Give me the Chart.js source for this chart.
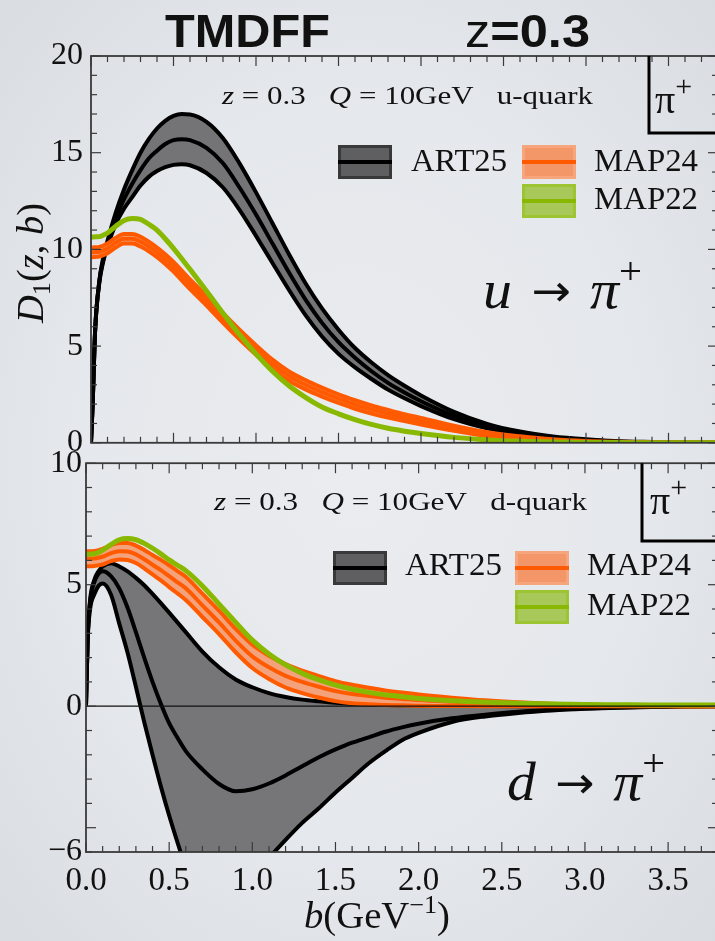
<!DOCTYPE html>
<html>
<head>
<meta charset="utf-8">
<script src="https://cdn.jsdelivr.net/npm/chart.js@4.4.1/dist/chart.umd.min.js"></script>
<style>
html, body { margin: 0; padding: 0; }
body {
  width: 715px; height: 941px; overflow: hidden; position: relative;
  background: radial-gradient(ellipse at 50% 50%, #eaecef 0%, #e5e8ec 55%, #d9dce1 100%);
}
canvas { position: absolute; left: 0; }
#topChart { top: 0; }
#bottomChart { top: 440px; }
</style>
</head>
<body>
<canvas id="topChart" width="722" height="470"></canvas>
<canvas id="bottomChart" width="722" height="501"></canvas>
<script>
// b values (GeV^-1) shared by every curve
const bGrid = [0, 0.01, 0.025, 0.05, 0.075, 0.1, 0.15, 0.2, 0.25, 0.3, 0.35, 0.4, 0.45, 0.5, 0.55, 0.6, 0.7, 0.8, 0.9, 1.0,
  1.1, 1.2, 1.3, 1.4, 1.5, 1.6, 1.7, 1.8, 1.9, 2.0, 2.2, 2.4, 2.6, 2.8, 3.0, 3.2, 3.4, 3.6, 3.8];

// u -> pi+
const uArtCentral = [0, 2.0, 5.8, 8.3, 9.5, 10.3, 11.6, 12.6, 13.4, 14.1, 14.7, 15.1, 15.45, 15.65, 15.7, 15.65, 15.25, 14.45, 13.2, 11.8,
  10.3, 8.8, 7.4, 6.2, 5.2, 4.4, 3.7, 3.1, 2.6, 2.15, 1.4, 0.85, 0.5, 0.28, 0.15, 0.07, 0.03, 0.01, 0];
const uArtUpper = [0, 2.0, 5.8, 8.35, 9.6, 10.45, 11.9, 13.1, 14.1, 15.0, 15.7, 16.25, 16.65, 16.9, 17.0, 16.98, 16.6, 15.75, 14.45, 12.95,
  11.35, 9.75, 8.25, 6.95, 5.85, 4.9, 4.15, 3.5, 2.95, 2.45, 1.6, 0.98, 0.58, 0.33, 0.18, 0.08, 0.04, 0.01, 0];
const uArtLower = [0, 2.0, 5.8, 8.25, 9.4, 10.15, 11.3, 12.1, 12.7, 13.3, 13.75, 14.05, 14.25, 14.37, 14.4, 14.35, 13.95, 13.2, 12.05, 10.7,
  9.3, 7.9, 6.6, 5.5, 4.6, 3.9, 3.3, 2.75, 2.3, 1.9, 1.22, 0.75, 0.43, 0.24, 0.13, 0.06, 0.03, 0.01, 0];
const uMap24Central = [9.85, 9.85, 9.86, 9.88, 9.95, 10.05, 10.35, 10.55, 10.55, 10.4, 10.15, 9.85, 9.5, 9.1, 8.65, 8.2, 7.35, 6.45, 5.6, 4.8,
  4.05, 3.45, 3.0, 2.62, 2.28, 1.98, 1.72, 1.5, 1.3, 1.12, 0.75, 0.45, 0.27, 0.13, 0.06, 0.03, 0.01, 0, 0];
const uMap24Upper = [10.1, 10.1, 10.11, 10.13, 10.2, 10.3, 10.6, 10.8, 10.8, 10.65, 10.4, 10.1, 9.75, 9.35, 8.9, 8.45, 7.6, 6.7, 5.85, 5.05,
  4.3, 3.69, 3.24, 2.85, 2.5, 2.2, 1.93, 1.7, 1.48, 1.29, 0.88, 0.55, 0.34, 0.18, 0.09, 0.05, 0.02, 0.01, 0];
const uMap24Lower = [9.6, 9.6, 9.61, 9.63, 9.7, 9.8, 10.1, 10.3, 10.3, 10.15, 9.9, 9.6, 9.25, 8.85, 8.4, 7.95, 7.1, 6.2, 5.35, 4.55,
  3.8, 3.21, 2.76, 2.39, 2.06, 1.76, 1.51, 1.3, 1.12, 0.95, 0.62, 0.35, 0.2, 0.08, 0.03, 0.01, 0, 0, 0];
const uMap22 = [10.64, 10.64, 10.65, 10.66, 10.74, 10.85, 11.2, 11.5, 11.6, 11.55, 11.3, 11.0, 10.55, 10.05, 9.52, 8.97, 7.85, 6.7, 5.6, 4.6,
  3.7, 2.95, 2.35, 1.85, 1.5, 1.2, 0.95, 0.75, 0.6, 0.48, 0.28, 0.15, 0.08, 0.04, 0.02, 0.01, 0, 0, 0];

// d -> pi+
const dArtCentral = [0, 2.8, 4.3, 5.1, 5.45, 5.55, 5.35, 4.85, 4.05, 3.05, 2.0, 1.0, 0.1, -0.7, -1.3, -1.85, -2.6, -3.2, -3.5, -3.42,
  -3.18, -2.85, -2.47, -2.1, -1.78, -1.5, -1.28, -1.05, -0.87, -0.72, -0.5, -0.35, -0.23, -0.15, -0.09, -0.05, -0.03, -0.01, 0];
const dArtUpper = [0, 2.8, 4.4, 5.2, 5.55, 5.75, 5.88, 5.75, 5.55, 5.28, 4.98, 4.62, 4.24, 3.85, 3.45, 3.05, 2.25, 1.6, 1.1, 0.78,
  0.54, 0.38, 0.27, 0.2, 0.14, 0.1, 0.07, 0.05, 0.04, 0.03, 0.02, 0.01, 0, 0, 0, 0, 0, 0, 0];
const dArtLower = [0, 2.7, 4.0, 4.6, 4.95, 5.05, 4.6, 3.4, 2.2, 0.8, -0.65, -2.0, -3.3, -4.5, -5.6, -6.6, -7.6, -8.1, -7.9, -7.1,
  -6.25, -5.5, -4.8, -4.2, -3.55, -2.95, -2.35, -1.85, -1.4, -1.1, -0.65, -0.42, -0.28, -0.18, -0.11, -0.06, -0.03, -0.01, 0];
const dMap24Central = [6.07, 6.07, 6.07, 6.08, 6.11, 6.15, 6.3, 6.38, 6.37, 6.25, 6.05, 5.82, 5.6, 5.35, 5.1, 4.85, 4.15, 3.45, 2.7, 2.05,
  1.6, 1.25, 1.0, 0.8, 0.62, 0.5, 0.42, 0.35, 0.3, 0.25, 0.18, 0.12, 0.08, 0.05, 0.03, 0.02, 0.01, 0, 0];
const dMap24Upper = [6.38, 6.38, 6.38, 6.39, 6.42, 6.47, 6.63, 6.72, 6.72, 6.61, 6.43, 6.22, 6.02, 5.8, 5.56, 5.33, 4.63, 3.93, 3.18, 2.53,
  2.08, 1.73, 1.46, 1.24, 1.03, 0.88, 0.76, 0.65, 0.56, 0.48, 0.35, 0.24, 0.16, 0.1, 0.06, 0.04, 0.02, 0.01, 0];
const dMap24Lower = [5.76, 5.76, 5.76, 5.77, 5.8, 5.83, 5.97, 6.04, 6.02, 5.89, 5.67, 5.42, 5.18, 4.9, 4.64, 4.37, 3.67, 2.97, 2.22, 1.57,
  1.12, 0.77, 0.54, 0.36, 0.21, 0.12, 0.08, 0.05, 0.04, 0.02, 0.01, 0, 0, 0, 0, 0, 0, -0.01, 0];
const dMap22 = [6.25, 6.25, 6.26, 6.27, 6.33, 6.42, 6.65, 6.85, 6.9, 6.85, 6.7, 6.5, 6.27, 6.02, 5.8, 5.58, 4.95, 4.2, 3.45, 2.72,
  2.15, 1.7, 1.35, 1.08, 0.87, 0.7, 0.57, 0.47, 0.39, 0.32, 0.22, 0.16, 0.12, 0.09, 0.07, 0.06, 0.05, 0.05, 0.05];

const xTickLabels = ['0.0', '0.5', '1.0', '1.5', '2.0', '2.5', '3.0', '3.5'];
const seriesNames = ['ART25', 'MAP24', 'MAP22'];

const SERIF = '"Liberation Serif", "DejaVu Serif", serif';
const SANS = '"Liberation Sans", Arial, sans-serif';
const ARROW = '"DejaVu Sans", sans-serif';
const f = (style, size, fam) => style + ' ' + size + 'px ' + (fam || SERIF);

function pts(arr) {
  return bGrid.map((b, i) => ({ x: b, y: arr[i] }));
}

function band(upper, lower, central, color, fillColor, width, order) {
  const common = { borderColor: color, borderWidth: width, pointRadius: 0, cubicInterpolationMode: 'monotone', clip: 0 };
  return [
    Object.assign({ data: pts(upper), fill: '+1', backgroundColor: fillColor, order: order + 2 }, common),
    Object.assign({ data: pts(lower), fill: false, order: order + 1 }, common),
    Object.assign({ data: pts(central), fill: false, order: order }, common)
  ];
}

function drawRich(ctx, t) {
  ctx.save();
  let w = 0;
  t.parts.forEach(p => { ctx.font = p[1]; w += ctx.measureText(p[0]).width; });
  ctx.translate(t.x, t.y);
  if (t.rot) ctx.rotate(t.rot);
  if (t.w) ctx.scale(t.w / w, 1);
  ctx.fillStyle = '#111';
  ctx.textBaseline = 'alphabetic';
  let cx = 0;
  t.parts.forEach(p => {
    ctx.font = p[1];
    ctx.fillText(p[0], cx, p[2] || 0);
    cx += ctx.measureText(p[0]).width;
  });
  ctx.restore();
}

function seg(ctx, x1, y1, x2, y2) {
  ctx.beginPath(); ctx.moveTo(x1, y1); ctx.lineTo(x2, y2); ctx.stroke();
}

const swatchStyle = {
  ART25: { fill: 'rgba(70,70,72,0.85)', edge: 'rgba(50,50,52,0.85)', line: '#000' },
  MAP24: { fill: '#f39668', edge: '#f7a57c', line: '#ff5a00' },
  MAP22: { fill: '#a8c95a', edge: '#9dc431', line: '#88b800' }
};

const decor = {
  id: 'decor',
  afterDatasetsDraw(chart, args, o) {
    const ctx = chart.ctx, a = chart.chartArea, xs = chart.scales.x, ys = chart.scales.y;
    ctx.save();
    if (o.zeroLine) {
      ctx.strokeStyle = '#111'; ctx.lineWidth = 1.2;
      const py = ys.getPixelForValue(0);
      seg(ctx, a.left, py, a.right, py);
    }
    ctx.strokeStyle = '#3a3a3a'; ctx.lineWidth = 1.8;
    ctx.strokeRect(a.left, a.top, a.right - a.left, a.bottom - a.top);
    ctx.lineWidth = 1.2;
    for (let i = 0; i <= 38; i++) {
      const px = xs.getPixelForValue(i / 10);
      const len = i % 5 === 0 ? 10 : 6;
      seg(ctx, px, a.bottom, px, a.bottom - len);
      seg(ctx, px, a.top, px, a.top + len);
    }
    for (let v = Math.ceil(ys.min); v <= ys.max; v++) {
      const py = ys.getPixelForValue(v);
      const len = v % 5 === 0 ? 10 : 6;
      seg(ctx, a.left, py, a.left + len, py);
      seg(ctx, a.right, py, a.right - len, py);
    }
    // pi+ box
    ctx.strokeStyle = '#000'; ctx.lineWidth = 3;
    ctx.beginPath();
    ctx.moveTo(o.box.x, a.top); ctx.lineTo(o.box.x, o.box.y); ctx.lineTo(a.right + 5, o.box.y);
    ctx.stroke();
    // legend swatches
    o.legend.forEach(e => {
      const s = swatchStyle[e.name];
      ctx.fillStyle = s.fill; ctx.fillRect(e.x, e.y, 54, 34);
      ctx.strokeStyle = s.edge; ctx.lineWidth = 3; ctx.strokeRect(e.x + 1.5, e.y + 1.5, 51, 31);
      ctx.strokeStyle = s.line; ctx.lineWidth = 4; seg(ctx, e.x, e.y + 17, e.x + 54, e.y + 17);
      drawRich(ctx, { x: e.tx, y: e.ty, w: e.tw, parts: [[e.name, f('', 31)]] });
    });
    o.texts.forEach(t => drawRich(ctx, t));
    ctx.restore();
  }
};

function yAxis(min, max, width, pad) {
  return {
    min: min, max: max,
    afterFit: s => { s.width = width; },
    border: { display: false },
    grid: { display: false, drawTicks: false },
    ticks: {
      stepSize: 5, padding: pad, color: '#111', font: { family: SERIF, size: 32 },
      callback: v => (v < 0 ? '\u2212' + Math.abs(v) : String(v))
    }
  };
}

// u / d -> pi+ label pieces, with wide gaps round the arrow
function arrowLabel(q) {
  return [['' + q, f('italic', 54)], [' ', f('', 72)], ['\u2192', f('', 44, ARROW), -2], [' ', f('', 72)],
    ['\u03c0', f('italic', 54)], ['+', f('', 38), -24]];
}

// upper panel: u -> pi+
new Chart(document.getElementById('topChart'), {
  type: 'line',
  data: {
    datasets: [].concat(
      band(uArtUpper, uArtLower, uArtCentral, '#000', '#747476', 4, 6),
      band(uMap24Upper, uMap24Lower, uMap24Central, '#ff5a00', '#f4a27c', 4, 3),
      [{ data: pts(uMap22), borderColor: '#88b800', borderWidth: 5, pointRadius: 0, fill: false,
         cubicInterpolationMode: 'monotone', clip: 0, order: 1 }]
    )
  },
  options: {
    responsive: false, animation: false, events: [],
    layout: { padding: { left: 0, top: 56, right: 4, bottom: 23 } },
    plugins: {
      legend: { display: false }, tooltip: { enabled: false },
      decor: {
        zeroLine: false,
        box: { x: 649, y: 133 },
        legend: [
          { name: seriesNames[0], x: 338, y: 145, tx: 411, ty: 171, tw: 96 },
          { name: seriesNames[1], x: 522, y: 145, tx: 594, ty: 171, tw: 104 },
          { name: seriesNames[2], x: 522, y: 184, tx: 594, ty: 209, tw: 104 }
        ],
        texts: [
          { x: 165, y: 47, w: 165, parts: [['TMDFF', f('bold', 47, SANS)]] },
          { x: 465, y: 47, w: 125, parts: [['z', f('', 47, SANS)], ['=0.3', f('bold', 47, SANS)]] },
          { x: 222, y: 104, w: 371, parts: [['z', f('italic', 25)], [' = 0.3   ', f('', 25)], ['Q', f('italic', 25)], [' = 10GeV   u-quark', f('', 25)]] },
          { x: 655, y: 113, parts: [['\u03c0', f('', 40)], ['+', f('', 30), -17]] },
          { x: 483, y: 308, w: 159, parts: arrowLabel('u') },
          { x: 43, y: 323, w: 120, rot: -Math.PI / 2, parts: [['D', f('italic', 38)], ['1', f('', 26), 7], ['(', f('', 38)], ['z', f('italic', 38)], [', ', f('', 38)], ['b', f('italic', 38)], [')', f('', 38)]] }
        ]
      }
    },
    scales: {
      x: { type: 'linear', min: 0, max: 3.8, display: false },
      y: yAxis(0, 20, 91, 8)
    }
  },
  plugins: [decor]
});

// lower panel: d -> pi+
new Chart(document.getElementById('bottomChart'), {
  type: 'line',
  data: {
    datasets: [].concat(
      band(dArtUpper, dArtLower, dArtCentral, '#000', '#767678', 4, 6),
      band(dMap24Upper, dMap24Lower, dMap24Central, '#ff5a00', '#f4a27c', 4, 3),
      [{ data: pts(dMap22), borderColor: '#88b800', borderWidth: 5, pointRadius: 0, fill: false,
         cubicInterpolationMode: 'monotone', clip: 0, order: 1 }]
    )
  },
  options: {
    responsive: false, animation: false, events: [],
    layout: { padding: { left: 0, top: 23, right: 4, bottom: 0 } },
    plugins: {
      legend: { display: false }, tooltip: { enabled: false },
      decor: {
        zeroLine: true,
        box: { x: 642, y: 101 },
        legend: [
          { name: seriesNames[0], x: 333, y: 111, tx: 405, ty: 135, tw: 97 },
          { name: seriesNames[1], x: 515, y: 111, tx: 587, ty: 135, tw: 104 },
          { name: seriesNames[2], x: 515, y: 150, tx: 587, ty: 175, tw: 104 }
        ],
        texts: [
          { x: 214, y: 70, w: 373, parts: [['z', f('italic', 25)], [' = 0.3   ', f('', 25)], ['Q', f('italic', 25)], [' = 10GeV   d-quark', f('', 25)]] },
          { x: 650, y: 74, parts: [['\u03c0', f('', 40)], ['+', f('', 30), -17]] },
          { x: 507, y: 360, w: 158, parts: arrowLabel('d') },
          { x: 304, y: 488, w: 146, parts: [['b', f('italic', 37)], ['(GeV', f('', 37)], ['\u22121', f('', 25), -15], [')', f('', 37)]] }
        ]
      }
    },
    scales: {
      x: {
        type: 'linear', min: 0, max: 3.8,
        afterFit: s => { s.height = 89; },
        border: { display: false },
        grid: { display: false, drawTicks: false },
        ticks: {
          stepSize: 0.5, includeBounds: false, padding: 10, maxRotation: 0, color: '#111',
          font: { family: SERIF, size: 33 },
          callback: v => xTickLabels[Math.round(v / 0.5)]
        }
      },
      y: yAxis(-6, 10, 86, 4)
    }
  },
  plugins: [decor]
});
</script>
</body>
</html>
